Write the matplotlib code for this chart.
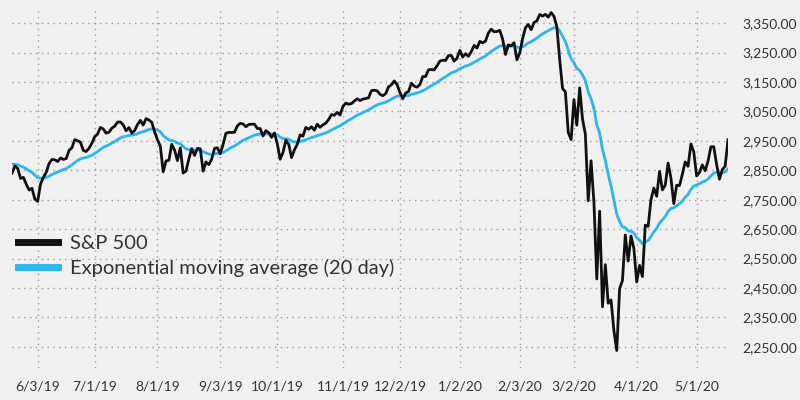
import numpy as np
import pandas as pd
import matplotlib
matplotlib.use('Agg')
import matplotlib.pyplot as plt
from matplotlib.ticker import FuncFormatter

# trading days 5/20/19 - 5/18/20 (NYSE holidays removed)
holidays = ['2019-05-27', '2019-07-04', '2019-09-02', '2019-11-28', '2019-12-25',
            '2020-01-01', '2020-01-20', '2020-02-17', '2020-04-10']
dates = pd.bdate_range('2019-05-20', '2020-05-18', freq='C', holidays=holidays)

# S&P 500 daily close
sp500 = [
    2840.23, 2864.36, 2856.27, 2822.24, 2826.06, 2802.39, 2783.02, 2788.86, 2752.06,
    2744.45, 2803.27, 2826.15, 2843.49, 2873.34, 2886.73, 2885.72, 2879.84, 2891.64, 2886.98,
    2889.67, 2917.75, 2926.46, 2954.18, 2950.46, 2945.35, 2917.38, 2913.78, 2924.92, 2941.76,
    2964.33, 2973.01, 2995.82, 2990.41, 2975.95, 2979.63, 2993.07, 2999.91, 3013.77, 3014.30,
    3004.04, 2984.42, 2995.11, 2976.61, 2985.03, 3005.47, 3019.56, 3003.67, 3025.86, 3020.97,
    3013.18, 2980.38,
    2953.56, 2932.05, 2844.74, 2881.77, 2883.98, 2938.09, 2918.65, 2882.70, 2926.32, 2840.60,
    2847.60, 2888.68, 2923.65, 2900.51, 2924.43, 2922.95, 2847.11, 2878.38, 2869.16, 2887.94,
    2924.58, 2926.46,
    2906.27, 2937.78, 2976.00, 2978.71, 2978.43, 2979.39, 3000.93, 3009.57, 3007.39, 2997.96,
    3005.70, 3006.73, 3006.79, 2992.07, 2991.78, 2966.60, 2984.87, 2977.62, 2961.79, 2976.74,
    2940.25, 2887.61, 2910.63, 2952.01, 2938.79, 2893.06, 2919.40, 2938.13, 2970.27, 2966.15,
    2995.68, 2989.69, 2997.95, 2986.20, 3006.72, 2995.99, 3004.52, 3010.29, 3022.55, 3039.42,
    3036.89, 3046.77, 3037.56,
    3066.91, 3078.27, 3074.62, 3076.78, 3085.18, 3093.08, 3087.01, 3091.84, 3094.04, 3096.63,
    3120.46, 3122.03, 3120.18, 3108.46, 3103.54, 3110.29, 3133.64, 3140.52, 3153.63, 3140.98,
    3113.87, 3093.20, 3112.76, 3117.43, 3145.91, 3135.96, 3132.52, 3141.63, 3168.57, 3168.80,
    3191.45, 3192.52, 3191.14, 3205.37, 3221.22, 3224.01, 3223.38, 3239.91, 3240.02, 3221.29,
    3230.78,
    3257.85, 3234.85, 3246.28, 3237.18, 3253.05, 3274.70, 3265.35, 3288.13, 3283.15, 3289.29,
    3316.81, 3329.62, 3320.79, 3321.75, 3325.54, 3295.47, 3243.63, 3276.24, 3273.40, 3283.66,
    3225.52,
    3248.92, 3297.59, 3334.69, 3345.78, 3327.71, 3352.09, 3357.75, 3379.45, 3373.94, 3380.16,
    3370.29, 3386.15, 3373.23, 3337.75, 3225.89, 3128.21, 3116.39, 2978.76, 2954.22,
    3090.23, 3003.37, 3130.12, 3023.94, 2972.37, 2746.56, 2882.23, 2741.38, 2480.64, 2711.02,
    2386.13, 2529.19, 2398.10, 2409.39, 2304.92, 2237.40, 2447.33, 2475.56, 2630.07, 2541.47,
    2626.65, 2584.59,
    2470.50, 2526.90, 2488.65, 2663.68, 2659.41, 2749.98, 2789.82, 2761.63, 2846.06, 2783.36,
    2799.55, 2874.56, 2823.16, 2736.56, 2799.31, 2797.80, 2836.74, 2878.48, 2863.39, 2939.51,
    2912.43,
    2830.71, 2842.74, 2868.44, 2848.42, 2881.19, 2929.80, 2930.19, 2870.12, 2820.00, 2852.50,
    2863.70, 2953.91,
]

# 20 day exponential moving average
ema20 = [
    2871.0, 2870.3, 2869.0, 2864.5, 2860.8, 2855.2, 2848.4, 2842.7, 2834.1,
    2825.5, 2823.4, 2823.6, 2825.5, 2830.0, 2835.4, 2840.2, 2844.0, 2848.6, 2852.3,
    2855.9, 2861.8, 2867.9, 2876.1, 2883.1, 2889.0, 2891.7, 2893.8, 2896.8, 2901.1,
    2907.1, 2913.4, 2921.2, 2927.8, 2932.4, 2936.9, 2942.2, 2947.7, 2954.0, 2959.7,
    2963.9, 2965.8, 2968.6, 2969.4, 2970.9, 2974.2, 2978.5, 2980.9, 2985.2, 2988.6,
    2990.9, 2989.9,
    2986.5, 2981.3, 2968.3, 2960.1, 2952.9, 2951.5, 2948.4, 2942.2, 2940.6, 2931.1,
    2923.2, 2920.0, 2920.4, 2918.5, 2919.0, 2919.4, 2912.5, 2909.2, 2905.4, 2903.7,
    2905.8, 2907.7,
    2907.5, 2910.4, 2916.7, 2922.6, 2927.9, 2932.7, 2939.2, 2946.0, 2951.8, 2956.2,
    2960.9, 2965.3, 2969.3, 2971.4, 2973.4, 2972.8, 2973.9, 2974.3, 2973.2, 2973.5,
    2970.3, 2962.5, 2957.6, 2957.0, 2955.3, 2949.4, 2946.5, 2945.7, 2948.0, 2949.7,
    2954.1, 2957.5, 2961.4, 2963.7, 2967.8, 2970.5, 2973.8, 2977.2, 2981.6, 2987.1,
    2991.8, 2997.1, 3001.0,
    3007.3, 3014.0, 3019.8, 3025.3, 3031.0, 3036.9, 3041.6, 3046.4, 3051.0, 3055.3,
    3061.5, 3067.3, 3072.3, 3075.7, 3078.4, 3081.4, 3086.4, 3091.6, 3097.5, 3101.7,
    3102.8, 3101.9, 3103.0, 3104.3, 3108.3, 3110.9, 3113.0, 3115.8, 3120.8, 3125.4,
    3131.7, 3137.5, 3142.6, 3148.5, 3155.4, 3162.0, 3167.8, 3174.6, 3180.9, 3184.7,
    3189.1,
    3195.6, 3199.4, 3203.8, 3207.0, 3211.4, 3217.4, 3221.9, 3228.2, 3233.5, 3238.7,
    3246.2, 3254.2, 3260.5, 3266.4, 3272.0, 3274.2, 3271.4, 3271.8, 3271.9, 3273.1,
    3268.6,
    3266.7, 3269.7, 3275.9, 3282.6, 3286.9, 3293.1, 3299.3, 3306.9, 3313.3, 3319.6,
    3324.4, 3330.3, 3334.4, 3334.7, 3324.3, 3305.6, 3287.6, 3258.2, 3229.2,
    3216.0, 3195.7, 3189.5, 3173.7, 3154.5, 3115.7, 3093.5, 3059.9, 3004.8, 2976.8,
    2920.6, 2883.3, 2837.1, 2796.4, 2749.6, 2700.8, 2676.6, 2657.5, 2654.9, 2644.1,
    2642.4, 2637.0,
    2621.2, 2612.2, 2600.5, 2606.5, 2611.5, 2624.7, 2640.5, 2652.0, 2670.5, 2681.2,
    2692.5, 2709.9, 2720.7, 2722.2, 2729.5, 2736.1, 2745.7, 2758.3, 2768.2, 2784.6,
    2796.7,
    2800.0, 2804.1, 2810.2, 2813.8, 2820.2, 2830.6, 2840.1, 2842.9, 2840.8, 2841.9,
    2844.0, 2854.5,
]

tick_dates = ['2019-06-03', '2019-07-01', '2019-08-01', '2019-09-03', '2019-10-01',
              '2019-11-01', '2019-12-02', '2020-01-02', '2020-02-03', '2020-03-02',
              '2020-04-01', '2020-05-01']
tick_labels = ['6/3/19', '7/1/19', '8/1/19', '9/3/19', '10/1/19', '11/1/19', '12/2/19',
               '1/2/20', '2/3/20', '3/2/20', '4/1/20', '5/1/20']
y_ticks = np.arange(2250, 3351, 100)

bg = '#f0f0f0'
txt = '#333333'
plt.rcParams['font.family'] = ['Lato', 'DejaVu Sans']

x = np.arange(len(dates))
tick_pos = dates.get_indexer(pd.to_datetime(tick_dates))

fig = plt.figure(figsize=(8, 4), dpi=100, facecolor=bg)
ax = fig.add_axes([0.015, 0.08, 0.895, 0.9025])
ax.set_facecolor(bg)

ax.plot(x, ema20, color='#2bb6ee', lw=2.0, label='Exponential moving average (20 day)', zorder=3)
ax.plot(x, sp500, color='#111111', lw=2.0, label='S&P 500', zorder=4)

ax.set_xlim(0, len(x) - 1)
ax.set_ylim(2178, 3405)
ax.set_xticks(tick_pos)
ax.set_xticklabels(tick_labels)
ax.set_yticks(y_ticks)
ax.yaxis.set_major_formatter(FuncFormatter(lambda v, p: '{:,.2f}'.format(v)))
ax.yaxis.tick_right()

ax.tick_params(axis='both', length=0, labelsize=10, colors=txt)
ax.tick_params(axis='y', pad=10)
ax.tick_params(axis='x', pad=9)
for s in ax.spines.values():
    s.set_visible(False)

ax.grid(True, color='#9a9a9a', lw=1.0, linestyle=(0, (1, 3.2)))
ax.set_axisbelow(True)

h, l = ax.get_legend_handles_labels()
leg = fig.legend(h[::-1], l[::-1], loc='center left', bbox_to_anchor=(0.0225, 0.361),
                 frameon=False, fontsize=14.5, handlelength=2.0, handletextpad=0.6,
                 labelspacing=0.35, borderpad=0, borderaxespad=0)
for t in leg.get_texts():
    t.set_color(txt)
for hl in leg.get_lines():
    hl.set_linewidth(5)

fig.savefig('out.png', dpi=100, facecolor=bg)
